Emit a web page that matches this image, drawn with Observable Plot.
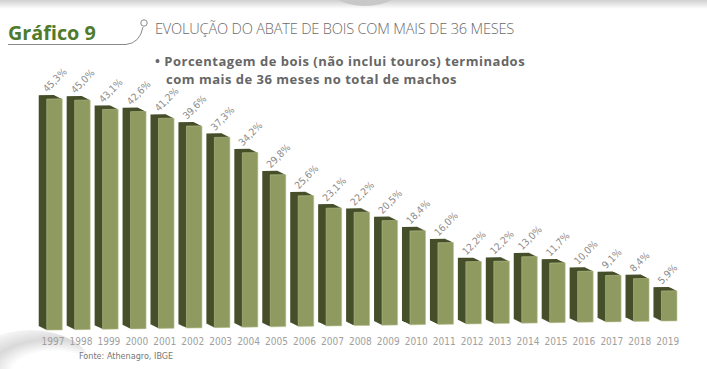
<!DOCTYPE html>
<html>
<head>
<meta charset="utf-8">
<script src="https://cdn.jsdelivr.net/npm/d3@7"></script>
<script src="https://cdn.jsdelivr.net/npm/@observablehq/plot@0.6"></script>
<style>
  html, body { margin: 0; padding: 0; background: #fff; }
  #wrap { position: relative; width: 707px; height: 369px; overflow: hidden; font-family: "Open Sans", "DejaVu Sans", sans-serif; }
  #chart { position: absolute; left: 0; top: 0; }
  .abs { position: absolute; white-space: nowrap; }
  #topband { position: absolute; left: 0; top: 0; width: 707px; height: 9px; background: linear-gradient(#d0d0d0, #ffffff); }
  #topblob { position: absolute; left: 325px; top: -40px; width: 80px; height: 46px; border-radius: 50%; background: #c8c8c8; }
  #swoosh { position: absolute; left: -30px; top: 330px; width: 120px; height: 70px; border-radius: 50%;
            background: radial-gradient(ellipse at 70% 60%, #ffffff 35%, #d9d9d9 55%, #f4f4f4 75%, rgba(255,255,255,0) 80%); }
  #title { left: 8px; top: 19px; font-size: 19.8px; font-weight: 700; color: #4f7b2c; letter-spacing: 0px; }
  #sub { left: 155px; top: 18px; font-size: 14.6px; font-weight: 300; color: #6a6a6a; letter-spacing: -0.2px; }
  .desc { font-size: 13px; font-weight: 700; color: #666; line-height: 14px; letter-spacing: 0.5px; }
  #desc1 { left: 155px; top: 54px; }
  #desc2 { left: 166px; top: 72px; }
  #src { left: 79px; top: 351px; font-size: 9px; color: #777; font-family: "Liberation Sans Narrow", "DejaVu Sans Condensed", sans-serif; }
</style>
</head>
<body>
<div id="wrap">
  <div id="topband"></div>
  <div id="topblob"></div>
  <div id="swoosh"></div>
  <div id="chart"></div>
  <svg class="abs" style="left:0;top:0" width="160" height="60">
    <path d="M8,44.5 L126,44.5 Q140,43 143,27" fill="none" stroke="#8a8a8a" stroke-width="1"/>
    <circle cx="144" cy="23" r="3.2" fill="none" stroke="#8a8a8a" stroke-width="1"/>
  </svg>
  <div class="abs" id="title">Gráfico 9</div>
  <div class="abs" id="sub">EVOLUÇÃO DO ABATE DE BOIS COM MAIS DE 36 MESES</div>
  <div class="abs desc" id="desc1">• Porcentagem de bois (não inclui touros) terminados</div>
  <div class="abs desc" id="desc2">com mais de 36 meses no total de machos</div>
  <div class="abs" id="src">Fonte: Athenagro, IBGE</div>
</div>
<script>
const years = ["1997","1998","1999","2000","2001","2002","2003","2004","2005","2006","2007","2008","2009","2010","2011","2012","2013","2014","2015","2016","2017","2018","2019"];
const values = [45.3,45.0,43.1,42.6,41.2,39.6,37.3,34.2,29.8,25.6,23.1,22.2,20.5,18.4,16.0,12.2,12.2,13.0,11.7,10.0,9.1,8.4,5.9];

const data = years.map((y, i) => ({year: y, value: values[i]}));
const fmt = v => v.toFixed(1).replace(".", ",") + "%";

const DARK = "#464f2a";
const FRONT = "#8e9a60";

const depth = d3.range(8, 0, -1).map(k =>
  Plot.barY(data, {x: "year", y: "value", fill: DARK, dx: -k, dy: -k / 2})
);

const chart = Plot.plot({
  width: 707,
  height: 369,
  marginLeft: 34.3,
  marginRight: 17.6,
  marginTop: 75.8,
  marginBottom: 38.2,
  style: {background: "transparent", color: "#a0a0a0", fontFamily: "'Liberation Sans Narrow', 'DejaVu Sans Condensed', sans-serif"},
  x: {type: "band", domain: years, padding: 0.445, round: false},
  y: {domain: [0, 50], axis: null},
  marks: [
    ...depth,
    Plot.barY(data, {x: "year", y: "value", fill: FRONT, stroke: "#b7bf8c", strokeWidth: 0.6}),
    Plot.text(data, {x: "year", y: "value", text: d => fmt(d.value), rotate: -45, textAnchor: "start",
      dx: -10, dy: -9, fill: "#8a8a8a", fontSize: 10}),
    Plot.axisX({tickSize: 0, tickPadding: 7, fontSize: 10, dx: -2, label: null})
  ]
});
document.getElementById("chart").appendChild(chart);

// slight perspective: baseline of the 3D bars slopes upward to the right
d3.select(chart).selectAll('g[aria-label="bar"], g[aria-label="text"]').each(function() {
  const t = this.getAttribute("transform") || "";
  this.setAttribute("transform", "skewY(-0.84) " + t);
});
</script>
</body>
</html>
